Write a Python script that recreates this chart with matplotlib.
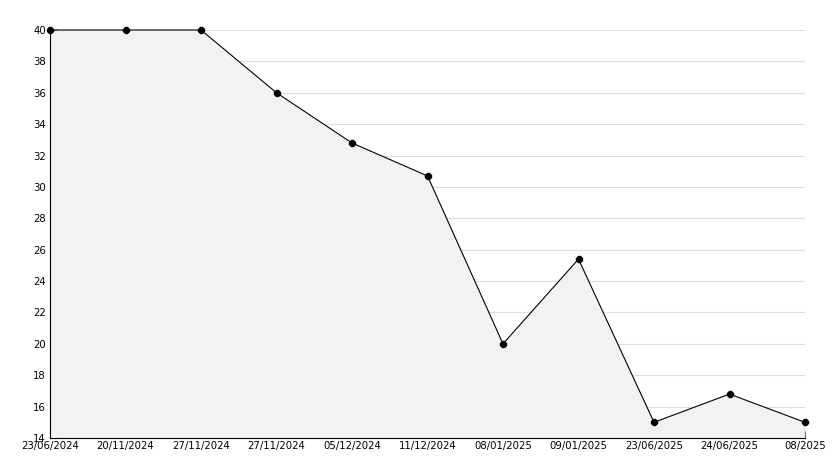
import matplotlib
matplotlib.use("Agg")
import matplotlib.pyplot as plt
from matplotlib.ticker import MultipleLocator
import numpy as np

dates = ["23/06/2024", "20/11/2024", "27/11/2024", "27/11/2024", "05/12/2024",
         "11/12/2024", "08/01/2025", "09/01/2025", "23/06/2025", "24/06/2025",
         "08/2025"]
values = [40, 40, 40, 36, 32.8, 30.7, 20, 25.4, 15, 16.8, 15]
y_min, y_max = 14, 40

W, H = 834, 468
fig = plt.figure(figsize=(W / 100, H / 100), dpi=100)
ax = fig.add_axes([50 / W, 30 / H, 755 / W, 408 / H])

x = np.arange(len(values))
ax.fill_between(x, values, y_min, color="#f2f2f2", zorder=2, linewidth=0)
ax.plot(x, values, color="black", linewidth=0.8, marker="8", markersize=4.5,
        markerfacecolor="black", markeredgecolor="black", zorder=6,
        clip_on=False)
ax.vlines(x[-1], y_min, values[-1], color="black", linewidth=0.8, zorder=4)

ax.set_xlim(x[0], x[-1])
ax.set_ylim(y_min, y_max)
ax.set_xticks(x)
ax.set_xticklabels(dates)
ax.yaxis.set_major_locator(MultipleLocator(2))
ax.yaxis.set_minor_locator(MultipleLocator(1))
ax.grid(True, axis="y", color="#dddddd", linewidth=0.8, zorder=1)
ax.set_axisbelow(True)

for side in ("top", "right"):
    ax.spines[side].set_visible(False)
for side in ("left", "bottom"):
    ax.spines[side].set_linewidth(0.8)
    ax.spines[side].set_zorder(5)

ax.tick_params(axis="both", which="major", direction="in", length=5, width=0.8,
               labelsize=7.3, pad=3, colors="black")
ax.tick_params(axis="y", which="minor", direction="in", length=3, width=0.8)
ax.tick_params(axis="x", pad=2)

fig.savefig("out.png", dpi=100)
